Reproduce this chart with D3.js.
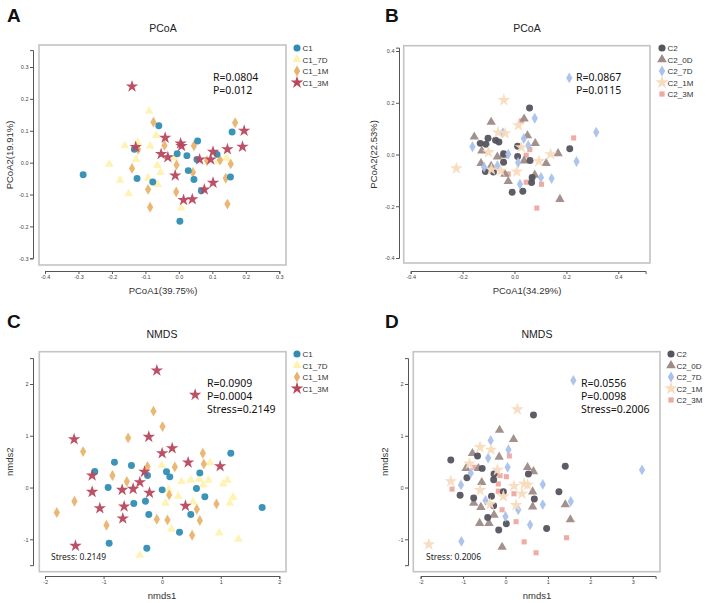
<!DOCTYPE html>
<html>
<head>
<meta charset="utf-8">
<script src="https://cdn.jsdelivr.net/npm/d3@7"></script>
<style>
  body { margin: 0; background: #fff; }
  svg { display: block; font-family: "Liberation Sans", Arial, sans-serif; }
  .tick text { fill: #444; }
</style>
</head>
<body>
<svg id="chart" width="708" height="603"></svg>
<script>
// ---- values ----
// panel A : PCoA of C1 groups
let pcoaC1 = [[-0.286,-0.038],[-0.133,0.042],[-0.125,-0.050],[-0.060,0.116],[-0.078,-0.061],[-0.005,0.028],[0.024,0.022],[0.028,-0.025],[0.045,-0.053],[0.056,0.068],[0.054,0.010],[0.067,-0.088],[0.003,-0.184],[0.114,0.026],[0.159,0.096],[0.154,-0.045]];
let pcoaC1_7D = [[-0.089,0.162],[-0.068,0.085],[-0.086,0.052],[-0.162,0.053],[-0.123,0.064],[-0.128,0.010],[-0.208,-0.005],[-0.176,-0.055],[-0.150,-0.097],[-0.092,-0.048],[-0.064,-0.009],[-0.055,-0.031],[-0.063,-0.068],[0.007,-0.142],[-0.013,0.015],[0.142,0.014],[0.118,0.004]];
let pcoaC1_1M = [[-0.076,0.127],[-0.043,0.054],[-0.122,0.042],[-0.140,-0.018],[-0.092,-0.084],[-0.086,-0.140],[-0.007,-0.007],[-0.008,-0.092],[0.045,0.053],[0.042,-0.031],[0.084,0.006],[0.123,0.008],[0.168,0.125],[0.155,-0.004],[0.140,-0.049],[0.145,-0.130]];
let pcoaC1_3M = [[-0.140,0.239],[-0.129,0.049],[-0.041,0.078],[-0.053,0.027],[-0.033,0.017],[0.005,0.060],[0.008,0.052],[-0.011,-0.040],[0.014,-0.117],[0.040,-0.115],[0.062,0.010],[0.076,-0.084],[0.102,-0.063],[0.102,0.034],[0.095,0.010],[0.145,0.042],[0.190,0.050],[0.195,0.100]];

// panel B : PCoA of C2 groups
let pcoaC2 = [[0.058,0.180],[-0.132,0.043],[-0.102,0.063],[-0.110,0.040],[-0.073,0.055],[-0.060,0.048],[-0.042,0.003],[-0.042,-0.030],[-0.112,-0.066],[-0.081,-0.068],[0.012,0.032],[0.012,-0.008],[0.060,-0.023],[0.068,-0.089],[0.066,-0.108],[-0.009,-0.146],[0.032,-0.142],[0.213,0.022]];
let pcoaC2_0D = [[-0.155,0.068],[-0.090,0.125],[-0.126,0.014],[-0.129,-0.034],[-0.090,-0.045],[-0.066,-0.009],[-0.044,-0.004],[-0.037,-0.076],[-0.024,-0.104],[0.037,0.138],[0.050,0.073],[0.080,0.043],[0.078,-0.079],[0.122,-0.034],[0.168,0.004],[0.175,-0.173],[0.037,-0.024]];
let pcoaC2_7D = [[0.211,0.296],[0.078,0.140],[0.315,0.086],[-0.162,0.030],[-0.045,0.084],[0.036,0.062],[0.053,0.035],[-0.024,0.001],[-0.066,-0.043],[-0.117,-0.049],[0.014,-0.031],[0.021,-0.115],[0.102,-0.089],[0.143,-0.093],[0.239,-0.027]];
let pcoaC2_1M = [[-0.041,0.210],[-0.224,-0.054],[-0.063,0.085],[-0.036,0.082],[0.015,0.113],[0.026,0.028],[-0.100,0.009],[-0.089,-0.058],[-0.053,-0.063],[0.009,-0.066],[0.094,-0.026],[0.139,0.001]];
let pcoaC2_3M = [[0.228,0.064],[0.027,0.130],[0.059,0.019],[0.045,-0.003],[0.104,-0.115],[0.086,-0.207],[0.045,-0.107],[-0.024,-0.075]];

// panel C : NMDS of C1 groups
let nmdsC1 = [[-1.150,0.309],[-0.814,0.489],[-0.524,0.425],[-0.922,0.000],[-0.484,-0.309],[-0.250,0.232],[-0.285,-0.264],[-0.228,-0.522],[-0.905,-1.075],[-0.262,-1.172],[0.000,-0.045],[0.074,0.303],[0.131,0.206],[0.296,-0.863],[0.489,-0.522],[0.586,-0.019],[0.643,0.283],[0.729,-0.180],[1.172,0.663],[1.707,-0.386]];
let nmdsC1_7D = [[-0.006,0.425],[0.114,-0.045],[0.057,-0.303],[0.273,-0.167],[0.330,0.116],[0.489,0.142],[0.632,0.161],[0.700,0.052],[0.791,0.142],[0.814,0.476],[1.042,0.071],[1.116,0.142],[1.212,-0.187],[1.155,-0.303],[0.529,-0.277],[0.159,-0.805],[0.973,-0.876],[1.303,-0.998],[-0.381,-1.307]];
let nmdsC1_1M = [[-0.148,1.475],[0.006,1.178],[-0.581,0.959],[-1.349,0.695],[-0.848,0.232],[-0.603,0.116],[-0.250,0.406],[0.216,0.399],[0.694,0.663],[0.711,0.457],[-1.497,-0.264],[-1.799,-0.483],[-0.950,-0.728],[-0.091,-0.612],[0.091,-0.625],[0.120,-0.142],[0.512,-0.921],[0.592,-0.419],[0.643,-0.637],[0.928,-0.316]];
let nmdsC1_3M = [[-0.091,2.260],[0.563,1.790],[-1.503,0.934],[-0.228,0.979],[0.000,0.663],[0.171,0.760],[0.444,0.483],[0.990,0.412],[-1.195,0.232],[-0.302,0.303],[-0.381,0.103],[-0.495,-0.026],[-0.683,-0.045],[-0.216,-0.103],[-1.195,-0.084],[-1.064,-0.399],[-0.649,-0.367],[-0.672,-0.599],[0.398,-0.354],[-1.480,-1.127]];

// panel D : NMDS of C2 groups
let nmdsC2 = [[0.66,1.40],[-1.29,0.53],[-0.66,0.61],[-0.91,0.19],[-0.55,0.37],[-0.27,0.26],[-0.28,0.15],[-1.07,-0.15],[-0.75,-0.20],[-0.33,-0.17],[-0.28,-0.35],[-0.05,-0.08],[-0.42,-0.58],[-0.16,-0.82],[0.02,-0.70],[0.54,0.26],[0.68,-0.22],[1.26,-0.08],[1.41,0.41],[0.97,-0.79]];
let nmdsC2_0D = [[-0.14,1.11],[0.19,0.93],[-0.78,0.66],[-0.93,0.37],[-0.64,0.37],[-0.15,0.59],[-0.56,0.10],[0.52,0.39],[0.66,0.31],[0.64,-0.08],[0.64,-0.37],[-0.75,-0.30],[-0.58,-0.38],[-0.27,-0.53],[-0.61,-0.69],[-0.39,-0.69],[1.41,-0.33],[1.53,-0.62],[-0.08,-1.15]];
let nmdsC2_7D = [[1.60,2.07],[3.22,0.34],[-0.35,0.91],[0.07,0.73],[-0.41,0.57],[0.05,0.39],[-0.82,0.28],[-1.05,0.05],[0.88,0.06],[0.88,-0.33],[1.54,-0.27],[-0.47,-0.25],[0.30,-0.43],[0.00,-0.56],[0.58,-0.72],[-1.04,-1.04]];
let nmdsC2_1M = [[0.28,1.51],[-0.60,0.78],[-0.34,0.73],[-0.85,0.46],[-0.19,0.34],[-1.29,0.12],[-0.60,-0.05],[-0.05,-0.17],[-0.36,-0.32],[0.20,0.03],[0.44,0.07],[0.52,0.05],[0.39,-0.12],[0.25,-0.34],[-1.81,-1.10]];
let nmdsC2_3M = [[0.09,0.61],[-0.74,0.39],[-1.26,-0.03],[-0.13,0.23],[0.02,0.21],[-0.17,0.07],[-0.17,-0.07],[0.20,-0.12],[-0.08,-0.43],[0.25,-0.66],[0.44,-1.05],[0.72,-1.26],[1.44,-0.97]];

let groupsC1 = ['C1', 'C1_7D', 'C1_1M', 'C1_3M'];
let groupsC2 = ['C2', 'C2_0D', 'C2_7D', 'C2_1M', 'C2_3M'];

let ticksA = { x: [-0.4, -0.3, -0.2, -0.1, 0, 0.1, 0.2, 0.3], y: [-0.3, -0.2, -0.1, 0, 0.1, 0.2, 0.3] };
let ticksB = { x: [-0.4, -0.2, 0, 0.2, 0.4], y: [-0.4, -0.2, 0, 0.2, 0.4] };
let ticksC = { x: [-2, -1, 0, 1, 2], y: [-1, 0, 1, 2] };
let ticksD = { x: [-2, -1, 0, 1, 2, 3], y: [-1, 0, 1, 2] };

// ---- styles ----
let styles = {
  C1:    { type: d3.symbolCircle,   size: 38, color: '#2F8DB4' },
  C1_7D: { type: d3.symbolTriangle, size: 34, color: '#FFF2B0' },
  C1_1M: { type: d3.symbolDiamond,  size: 34, color: '#E9B36D' },
  C1_3M: { type: d3.symbolStar,     size: 48, color: '#B8475D' },
  C2:    { type: d3.symbolCircle,   size: 38, color: '#55545F' },
  C2_0D: { type: d3.symbolTriangle, size: 38, color: '#9E8B87' },
  C2_7D: { type: d3.symbolDiamond,  size: 34, color: '#A9C1EB' },
  C2_1M: { type: d3.symbolStar,     size: 52, color: '#F8DBBE' },
  C2_3M: { type: d3.symbolSquare,   size: 26, color: '#EDA89F' }
};

let panels = [
  {
    letter: 'A', lx: 7, title: 'PCoA', cx: 163, top: 0,
    series: { C1: pcoaC1, C1_7D: pcoaC1_7D, C1_1M: pcoaC1_1M, C1_3M: pcoaC1_3M },
    drawOrder: ['C1_7D', 'C1_1M', 'C1', 'C1_3M'], legend: groupsC1,
    xd: [-0.4, 0.3], xr: [45, 279.3], yd: [-0.3, 0.3], yr: [258.3, 67],
    xAxisEnd: [-0.4, 0.3], yAxisEnd: [-0.3, 0.353], ticks: ticksA, fmt: v => v.toFixed(1),
    box: [39, 45, 286, 265], yAxisX: 33, xAxisY: 271,
    xlab: 'PCoA1(39.75%)', ylab: 'PCoA2(19.91%)', ylabX: 9,
    stats: ['R=0.0804', 'P=0.012'], sx: 213, legX: 297
  },
  {
    letter: 'B', lx: 385, title: 'PCoA', cx: 527, top: 0,
    series: { C2: pcoaC2, C2_0D: pcoaC2_0D, C2_7D: pcoaC2_7D, C2_1M: pcoaC2_1M, C2_3M: pcoaC2_3M },
    drawOrder: ['C2_3M', 'C2_0D', 'C2', 'C2_7D', 'C2_1M'], legend: groupsC2,
    xd: [-0.4, 0.4], xr: [410.7, 618.3], yd: [-0.4, 0.4], yr: [258, 51],
    xAxisEnd: [-0.4, 0.505], yAxisEnd: [-0.4, 0.413], ticks: ticksB, fmt: v => v.toFixed(1),
    box: [403.7, 45.7, 650, 263], yAxisX: 399, xAxisY: 271,
    xlab: 'PCoA1(34.29%)', ylab: 'PCoA2(22.53%)', ylabX: 373,
    stats: ['R=0.0867', 'P=0.0115'], sx: 576, legX: 662
  },
  {
    letter: 'C', lx: 7, title: 'NMDS', cx: 162, top: 306,
    series: { C1: nmdsC1, C1_7D: nmdsC1_7D, C1_1M: nmdsC1_1M, C1_3M: nmdsC1_3M },
    drawOrder: ['C1_7D', 'C1_1M', 'C1', 'C1_3M'], legend: groupsC1,
    xd: [-2, 2], xr: [45, 279.3], yd: [-1, 2], yr: [539.3, 384],
    xAxisEnd: [-2, 2], yAxisEnd: [-1.5, 2.5], ticks: ticksC, fmt: v => String(v),
    box: [39.3, 351.7, 286, 571.7], yAxisX: 33, xAxisY: 576,
    xlab: 'nmds1', ylab: 'nmds2', ylabX: 9,
    stats: ['R=0.0909', 'P=0.0004', 'Stress=0.2149'], sx: 207, legX: 297,
    stress: 'Stress: 0.2149', stressX: 51
  },
  {
    letter: 'D', lx: 385, title: 'NMDS', cx: 537, top: 306,
    series: { C2: nmdsC2, C2_0D: nmdsC2_0D, C2_7D: nmdsC2_7D, C2_1M: nmdsC2_1M, C2_3M: nmdsC2_3M },
    drawOrder: ['C2_3M', 'C2_0D', 'C2', 'C2_7D', 'C2_1M'], legend: groupsC2,
    xd: [-2, 3], xr: [420.7, 632.7], yd: [-1, 2], yr: [539.3, 384],
    xAxisEnd: [-2, 3.54], yAxisEnd: [-1.5, 2.5], ticks: ticksD, fmt: v => String(v),
    box: [413.3, 351.7, 660, 571.7], yAxisX: 408, xAxisY: 576,
    xlab: 'nmds1', ylab: 'nmds2', ylabX: 384,
    stats: ['R=0.0556', 'P=0.0098', 'Stress=0.2006'], sx: 581, legX: 671,
    stress: 'Stress: 0.2006', stressX: 426
  }
];

let svg = d3.select('#chart');

for (let p of panels) {
  let g = svg.append('g');
  let x = d3.scaleLinear().domain(p.xd).range(p.xr);
  let y = d3.scaleLinear().domain(p.yd).range(p.yr);
  let t = p.top;

  // letter + title
  g.append('text').text(p.letter)
    .attr('x', p.lx).attr('y', t + 22)
    .style('font-size', '19px').style('font-weight', 'bold').attr('fill', '#111');

  g.append('text').text(p.title)
    .attr('x', p.cx).attr('y', t + 31.5)
    .attr('text-anchor', 'middle')
    .style('font-size', '10.5px').attr('fill', '#222');

  // frame
  let b = p.box;
  g.append('rect')
    .attr('x', b[0]).attr('y', b[1])
    .attr('width', b[2] - b[0]).attr('height', b[3] - b[1])
    .attr('fill', 'none').attr('stroke', '#c4c4c4').attr('stroke-width', 1.6);

  // axes (offset from frame, base-R style)
  let xa = x.copy().domain(p.xAxisEnd).range(p.xAxisEnd.map(x));
  let ya = y.copy().domain(p.yAxisEnd).range(p.yAxisEnd.map(y));

  let gx = g.append('g')
    .attr('transform', `translate(0,${p.xAxisY})`)
    .call(d3.axisBottom(xa).tickValues(p.ticks.x).tickFormat(p.fmt).tickSize(3).tickSizeOuter(3).tickPadding(1.5));

  let gy = g.append('g')
    .attr('transform', `translate(${p.yAxisX},0)`)
    .call(d3.axisLeft(ya).tickValues(p.ticks.y).tickFormat(p.fmt).tickSize(3).tickSizeOuter(3).tickPadding(1.5));

  for (let a of [gx, gy]) {
    a.select('.domain').attr('stroke', '#555').attr('stroke-width', 1);
    a.selectAll('.tick line').attr('stroke', '#555');
    a.selectAll('.tick text').style('font-size', '5.5px').style('font-family', '"Liberation Sans", Arial, sans-serif');
  }

  // axis titles
  g.append('text').text(p.xlab)
    .attr('x', p.cx).attr('y', p.xAxisY + 22.5)
    .attr('text-anchor', 'middle')
    .style('font-size', '9.5px').attr('fill', '#333');

  g.append('text').text(p.ylab)
    .attr('transform', `translate(${p.ylabX + 3.5},${(b[1] + b[3]) / 2}) rotate(-90)`)
    .attr('text-anchor', 'middle')
    .style('font-size', '9.5px').attr('fill', '#333');

  // points
  for (let key of p.drawOrder) {
    let s = styles[key];
    let sym = d3.symbol().type(s.type).size(s.size);
    g.append('g').selectAll('path')
      .data(p.series[key])
      .enter()
      .append('path')
      .attr('d', sym)
      .attr('transform', d => `translate(${x(d[0])},${y(d[1])})`)
      .attr('fill', s.color)
      .attr('fill-opacity', 0.95);
  }

  // statistics
  p.stats.forEach((txt, i) => {
    g.append('text').text(txt)
      .attr('x', p.sx).attr('y', t + 80.5 + i * 13)
      .style('font-family', '"Noto Sans", "Open Sans", sans-serif')
      .style('font-size', '10.5px').attr('fill', '#111');
  });

  if (p.stress) {
    g.append('text').text(p.stress)
      .attr('x', p.stressX).attr('y', t + 254)
      .style('font-family', '"Noto Sans", "Open Sans", sans-serif')
      .style('font-size', '8.5px').attr('fill', '#222');
  }

  // legend
  p.legend.forEach((key, i) => {
    let s = styles[key];
    let ly = t + 48 + i * 11.5;
    g.append('path')
      .attr('d', d3.symbol().type(s.type).size(s.size * 1.05))
      .attr('transform', `translate(${p.legX},${ly})`)
      .attr('fill', s.color);
    g.append('text').text(key)
      .attr('x', p.legX + 5.5).attr('y', ly + 3)
      .style('font-size', '8px').attr('fill', '#333');
  });
}
</script>
</body>
</html>
